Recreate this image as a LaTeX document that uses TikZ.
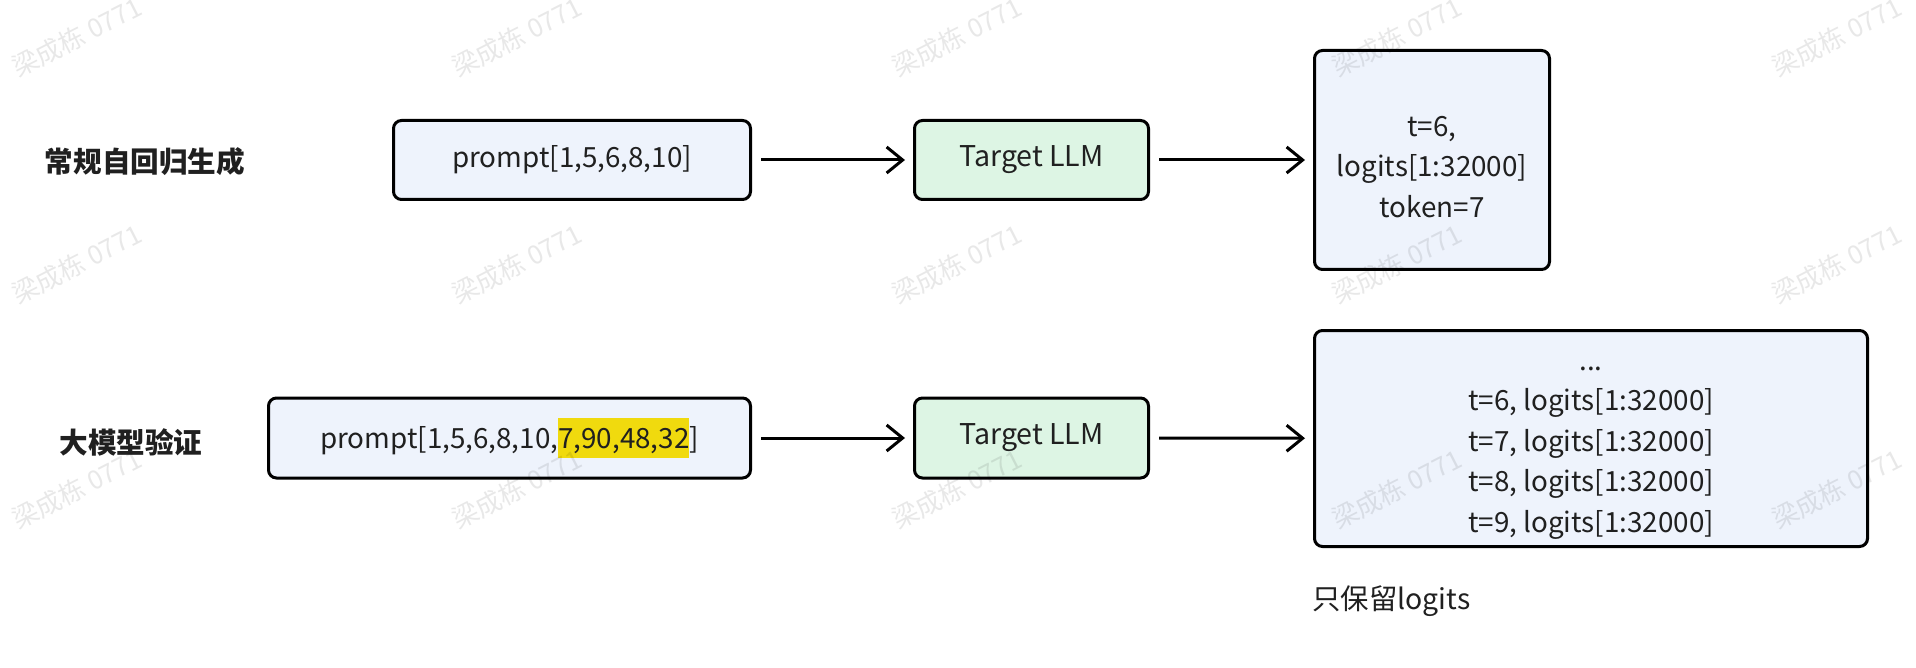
\documentclass[tikz,border=0pt]{standalone}
\usepackage{fontspec}
\setmainfont{Noto Sans CJK SC}
\usetikzlibrary{arrows.meta}
\definecolor{boxblue}{RGB}{238,243,252}
\definecolor{boxgreen}{RGB}{221,245,228}
\definecolor{markyellow}{RGB}{240,218,14}
\definecolor{textgray}{RGB}{32,32,32}
\newcommand{\hlmark}[1]{{\setlength{\fboxsep}{0pt}\colorbox{markyellow}{\rule[-5pt]{0pt}{20pt}#1}}}

\begin{document}
\begin{tikzpicture}[x=0.5pt, y=-0.5pt,
    caja/.style={draw=black, line width=1.5pt, rounded corners=4pt, text=textgray,
        font=\fontsize{13.9}{20}\selectfont, align=center, inner sep=0pt},
    texto/.style={text=textgray, font=\fontsize{13.9}{20.2}\selectfont, align=center, inner sep=0pt},
    flecha/.style={line width=1.5pt, -{Straight Barb[length=8pt,width=13pt,line width=1.5pt]},
        shorten <=4.5pt, shorten >=4pt},
    etiqueta/.style={font=\fontsize{14.3}{16}\selectfont\bfseries, text=textgray},
    marca/.style={font=\fontsize{13}{15}\selectfont, text=black, text opacity=0.09, rotate=27}]
    \useasboundingbox (0,0) rectangle (1916,668);

    % Generación autorregresiva
    \node[etiqueta] (lab1) at (145,162) {常规自回归生成};
    \node[caja, fill=boxblue, minimum width=178.5pt, minimum height=39.5pt] (prompt1) at (572,160) {prompt[1,5,6,8,10]};
    \node[caja, fill=boxgreen, minimum width=117pt, minimum height=39.5pt, font=\fontsize{14.3}{20}\selectfont] (llm1) at (1031.5,160) {Target LLM};
    \node[caja, fill=boxblue, minimum width=117.5pt, minimum height=109.5pt] (out1) at (1432,160) {};
    \node[texto] (out1txt) at (1432,167) {t=6,\\logits[1:32000]\\token=7};
    \draw[flecha] (prompt1) -- (llm1);
    \draw[flecha] (llm1) -- (out1);

    % Verificación
    \node[etiqueta] (lab2) at (131,442) {大模型验证};
    \node[caja, fill=boxblue, minimum width=241pt, minimum height=40pt] (prompt2) at (509.5,438) {prompt[1,5,6,8,10,\hlmark{7,90,48,32}]};
    \node[caja, fill=boxgreen, minimum width=117pt, minimum height=40pt, font=\fontsize{14.3}{20}\selectfont] (llm2) at (1031.5,438) {Target LLM};
    \node[caja, fill=boxblue, minimum width=276.5pt, minimum height=108pt] (out2) at (1591,438.5) {};
    \node[texto] (out2txt) at (1591,453)
        {...\\t=6, logits[1:32000]\\t=7, logits[1:32000]\\t=8, logits[1:32000]\\t=9, logits[1:32000]};
    \draw[flecha] (prompt2) -- (llm2);
    \draw[flecha] (llm2) -- (out2);
    \node[anchor=west, text=textgray, font=\fontsize{14.2}{16}\selectfont, inner sep=0pt] (nota) at (1312,601) {只保留logits};

    % Marca de agua
    \foreach \wx in {77,517,957,1397,1837} {
        \foreach \wy in {37,264,489} {
            \node[marca] (wm\wx\wy) at (\wx,\wy) {梁成栋 0771};
        }
    }
\end{tikzpicture}
\end{document}
